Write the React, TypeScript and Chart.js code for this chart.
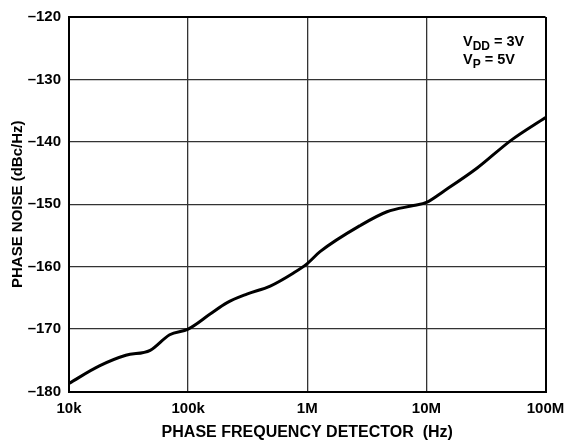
import { useEffect, useRef } from 'react';
import Chart from 'chart.js/auto';

const FREQUENCIES_HZ = [
  10e3, 18e3, 30e3, 48e3, 70e3, 100e3, 153e3, 211e3, 311e3, 489e3, 767e3,
  1e6, 1.28e6, 2.79e6, 4.67e6, 7.8e6, 10e6, 14e6, 26.7e6, 51e6, 100e6,
];
const PHASE_NOISE_DBC = [
  -178.7, -175.9, -174.2, -173.4, -170.9, -170.0, -167.6, -165.8, -164.4, -163.1, -161.0,
  -159.5, -157.6, -153.4, -151.2, -150.2, -149.7, -147.9, -144.2, -139.8, -136.1,
];
const X_TICKS = [1e4, 1e5, 1e6, 1e7, 1e8];
const X_TICK_LABELS = ['10k', '100k', '1M', '10M', '100M'];
const Y_TICKS = [-180, -170, -160, -150, -140, -130, -120];

const X_TITLE = 'PHASE FREQUENCY DETECTOR  (Hz)';
const Y_TITLE = 'PHASE NOISE (dBc/Hz)';
const NOTE_LINES = [
  { main: 'V', sub: 'DD', rest: ' = 3V' },
  { main: 'V', sub: 'P', rest: ' = 5V' },
];

const FONT = '"Liberation Sans", Arial, Helvetica, sans-serif';

const notePlugin = {
  id: 'noteText',
  afterDraw(chart: any) {
    const { ctx, chartArea } = chart;
    ctx.save();
    ctx.fillStyle = '#000';
    ctx.textBaseline = 'alphabetic';
    ctx.textAlign = 'left';
    let y = chartArea.top + 29;
    const x0 = chartArea.left + 394;
    for (const line of NOTE_LINES) {
      let x = x0;
      ctx.font = `bold 14.5px ${FONT}`;
      ctx.fillText(line.main, x, y);
      x += ctx.measureText(line.main).width;
      ctx.font = `bold 12px ${FONT}`;
      ctx.fillText(line.sub, x, y + 4);
      x += ctx.measureText(line.sub).width;
      ctx.font = `bold 14.5px ${FONT}`;
      ctx.fillText(line.rest, x, y);
      y += 18.3;
    }
    ctx.restore();
  },
};

export default function App() {
  const ref = useRef<HTMLCanvasElement | null>(null);
  useEffect(() => {
    if (!ref.current) return;
    const chart = new Chart(ref.current, {
      type: 'line',
      data: {
        datasets: [
          {
            data: FREQUENCIES_HZ.map((f, i) => ({ x: f, y: PHASE_NOISE_DBC[i] })),
            borderColor: '#000',
            borderWidth: 3,
            pointRadius: 0,
            tension: 0.4,
            cubicInterpolationMode: 'monotone',
            fill: false,
          },
        ],
      },
      options: {
        animation: false,
        responsive: true,
        maintainAspectRatio: false,
        layout: { padding: { left: 0, top: 12, right: 35.5, bottom: 0 } },
        plugins: { legend: { display: false }, tooltip: { enabled: false } },
        scales: {
          x: {
            type: 'logarithmic',
            min: 1e4,
            max: 1e8,
            afterFit(scale: any) {
              scale.height = 55.5;
            },
            afterBuildTicks(scale: any) {
              scale.ticks = X_TICKS.map((v) => ({ value: v }));
            },
            ticks: {
              autoSkip: false,
              maxRotation: 0,
              padding: 8,
              color: '#000',
              font: { family: FONT, size: 15, weight: 'bold' },
              callback: (v: any) => {
                const i = X_TICKS.indexOf(Number(v));
                return i >= 0 ? X_TICK_LABELS[i] : '';
              },
            },
            grid: {
              drawTicks: false,
              color: (c: any) => (c.index === 0 || c.index === X_TICKS.length - 1 ? '#000' : '#333'),
              lineWidth: (c: any) => (c.index === 0 || c.index === X_TICKS.length - 1 ? 2 : 1.3),
            },
            border: { color: '#000', width: 2 },
            title: {
              display: true,
              text: X_TITLE,
              color: '#000',
              font: { family: FONT, size: 16, weight: 'bold' },
              padding: { top: 0, bottom: 5 },
            },
          },
          y: {
            type: 'linear',
            min: -180,
            max: -120,
            afterFit(scale: any) {
              scale.width = 69;
            },
            afterBuildTicks(scale: any) {
              scale.ticks = Y_TICKS.map((v) => ({ value: v }));
            },
            ticks: {
              padding: 8,
              color: '#000',
              font: { family: FONT, size: 15, weight: 'bold' },
              callback: (v: any) => String(v).replace('-', '\u2013'),
            },
            grid: {
              drawTicks: false,
              color: (c: any) => (c.index === 0 || c.index === Y_TICKS.length - 1 ? '#000' : '#333'),
              lineWidth: (c: any) => (c.index === 0 || c.index === Y_TICKS.length - 1 ? 2 : 1.3),
            },
            border: { color: '#000', width: 2 },
            title: {
              display: true,
              text: Y_TITLE,
              color: '#000',
              font: { family: FONT, size: 15, weight: 'bold' },
              padding: { top: 9, bottom: 0 },
            },
          },
        },
      },
      plugins: [notePlugin],
    });
    return () => chart.destroy();
  }, []);
  return (
    <div style={{ position: 'fixed', left: 0, top: 0, width: 581, height: 447, background: '#fff' }}>
      <canvas ref={ref} />
    </div>
  );
}
